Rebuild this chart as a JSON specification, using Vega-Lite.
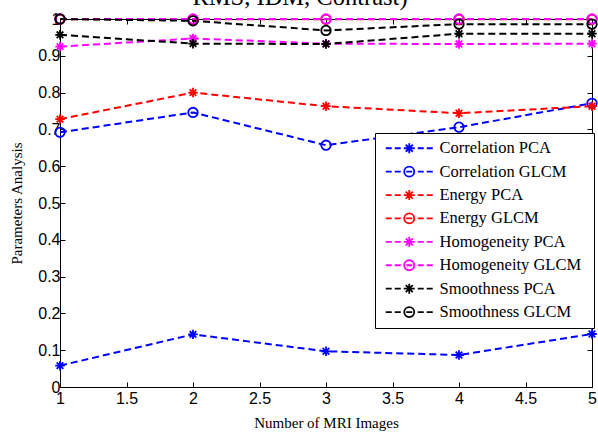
{
  "$schema": "https://vega.github.io/schema/vega-lite/v6.json",
  "width": 532,
  "height": 368,
  "autosize": "none",
  "padding": {"left": 60, "top": 19, "right": 6, "bottom": 45},
  "background": "white",
  "title": {"text": "RMS, IDM, Contrast)", "font": "Liberation Serif", "fontSize": 24.5, "fontWeight": "normal", "color": "black", "anchor": "middle", "baseline": "alphabetic", "offset": 3, "dx": -26, "dy": 22},
  "data": {"values": [
    {"x": 1, "series": "Correlation PCA", "v": 0.058},
    {"x": 2, "series": "Correlation PCA", "v": 0.143},
    {"x": 3, "series": "Correlation PCA", "v": 0.097},
    {"x": 4, "series": "Correlation PCA", "v": 0.087},
    {"x": 5, "series": "Correlation PCA", "v": 0.144},
    {"x": 1, "series": "Correlation GLCM", "v": 0.692},
    {"x": 2, "series": "Correlation GLCM", "v": 0.746},
    {"x": 3, "series": "Correlation GLCM", "v": 0.657},
    {"x": 4, "series": "Correlation GLCM", "v": 0.706},
    {"x": 5, "series": "Correlation GLCM", "v": 0.771},
    {"x": 1, "series": "Energy PCA", "v": 0.728},
    {"x": 2, "series": "Energy PCA", "v": 0.8},
    {"x": 3, "series": "Energy PCA", "v": 0.763},
    {"x": 4, "series": "Energy PCA", "v": 0.744},
    {"x": 5, "series": "Energy PCA", "v": 0.763},
    {"x": 1, "series": "Energy GLCM", "v": 0.999},
    {"x": 2, "series": "Energy GLCM", "v": 0.999},
    {"x": 3, "series": "Energy GLCM", "v": 0.999},
    {"x": 4, "series": "Energy GLCM", "v": 0.999},
    {"x": 5, "series": "Energy GLCM", "v": 0.999},
    {"x": 1, "series": "Homogeneity PCA", "v": 0.925},
    {"x": 2, "series": "Homogeneity PCA", "v": 0.947},
    {"x": 3, "series": "Homogeneity PCA", "v": 0.933},
    {"x": 4, "series": "Homogeneity PCA", "v": 0.932},
    {"x": 5, "series": "Homogeneity PCA", "v": 0.933},
    {"x": 1, "series": "Homogeneity GLCM", "v": 1.0},
    {"x": 2, "series": "Homogeneity GLCM", "v": 1.0},
    {"x": 3, "series": "Homogeneity GLCM", "v": 1.0},
    {"x": 4, "series": "Homogeneity GLCM", "v": 1.0},
    {"x": 5, "series": "Homogeneity GLCM", "v": 1.0},
    {"x": 1, "series": "Smoothness PCA", "v": 0.957},
    {"x": 2, "series": "Smoothness PCA", "v": 0.933},
    {"x": 3, "series": "Smoothness PCA", "v": 0.932},
    {"x": 4, "series": "Smoothness PCA", "v": 0.96},
    {"x": 5, "series": "Smoothness PCA", "v": 0.96},
    {"x": 1, "series": "Smoothness GLCM", "v": 1.0},
    {"x": 2, "series": "Smoothness GLCM", "v": 0.995},
    {"x": 3, "series": "Smoothness GLCM", "v": 0.969},
    {"x": 4, "series": "Smoothness GLCM", "v": 0.986},
    {"x": 5, "series": "Smoothness GLCM", "v": 0.986}
  ]},
  "layer": [
    {
      "mark": {"type": "line", "strokeDash": [7, 4], "strokeWidth": 2, "clip": false},
      "encoding": {
        "x": {"field": "x", "type": "quantitative", "scale": {"domain": [1, 5], "nice": false, "zero": false},
          "axis": {"orient": "bottom", "values": [1, 1.5, 2, 2.5, 3, 3.5, 4, 4.5, 5], "format": "~g", "title": "Number of MRI Images", "labelPadding": 8, "titlePadding": 9}},
        "y": {"field": "v", "type": "quantitative", "scale": {"domain": [0, 1], "nice": false},
          "axis": {"orient": "left", "values": [0, 0.1, 0.2, 0.3, 0.4, 0.5, 0.6, 0.7, 0.8, 0.9, 1], "format": "~g", "title": "Parameters Analysis", "labelPadding": 5, "titlePadding": 13}},
        "color": {"field": "series", "type": "nominal", "legend": null,
          "scale": {"domain": ["Correlation PCA", "Correlation GLCM", "Energy PCA", "Energy GLCM", "Homogeneity PCA", "Homogeneity GLCM", "Smoothness PCA", "Smoothness GLCM"],
                    "range": ["#0000ff", "#0000ff", "#ff0000", "#ff0000", "#ff00ff", "#ff00ff", "#000000", "#000000"]}}
      }
    },
    {
      "mark": {"type": "point", "filled": false, "strokeWidth": 1.8, "size": 90, "opacity": 1, "clip": false},
      "encoding": {
        "x": {"field": "x", "type": "quantitative", "axis": {"orient": "top", "labels": false, "title": null, "values": [1, 1.5, 2, 2.5, 3, 3.5, 4, 4.5, 5]}},
        "y": {"field": "v", "type": "quantitative", "axis": {"orient": "right", "labels": false, "title": null, "values": [0, 0.1, 0.2, 0.3, 0.4, 0.5, 0.6, 0.7, 0.8, 0.9, 1]}},
        "color": {"field": "series", "type": "nominal", "legend": null,
          "scale": {"domain": ["Correlation PCA", "Correlation GLCM", "Energy PCA", "Energy GLCM", "Homogeneity PCA", "Homogeneity GLCM", "Smoothness PCA", "Smoothness GLCM"],
                    "range": ["#0000ff", "#0000ff", "#ff0000", "#ff0000", "#ff00ff", "#ff00ff", "#000000", "#000000"]}},
        "shape": {"field": "series", "type": "nominal", "legend": null,
          "scale": {"domain": ["Correlation PCA", "Correlation GLCM", "Energy PCA", "Energy GLCM", "Homogeneity PCA", "Homogeneity GLCM", "Smoothness PCA", "Smoothness GLCM"],
                    "range": ["M-1,0H1M0,-1V1M-0.7,-0.7L0.7,0.7M-0.7,0.7L0.7,-0.7", "circle", "M-1,0H1M0,-1V1M-0.7,-0.7L0.7,0.7M-0.7,0.7L0.7,-0.7", "circle", "M-1,0H1M0,-1V1M-0.7,-0.7L0.7,0.7M-0.7,0.7L0.7,-0.7", "circle", "M-1,0H1M0,-1V1M-0.7,-0.7L0.7,0.7M-0.7,0.7L0.7,-0.7", "circle"]}}
      }
    },
    {
      "transform": [{"filter": "datum.x > 10"}],
      "mark": {"type": "point", "filled": false, "strokeWidth": 1.8},
      "encoding": {
        "x": {"field": "x", "type": "quantitative", "axis": null},
        "y": {"field": "v", "type": "quantitative", "axis": null},
        "color": {"field": "series", "type": "nominal",
          "scale": {"domain": ["Correlation PCA", "Correlation GLCM", "Energy PCA", "Energy GLCM", "Homogeneity PCA", "Homogeneity GLCM", "Smoothness PCA", "Smoothness GLCM"],
                    "range": ["#0000ff", "#0000ff", "#ff0000", "#ff0000", "#ff00ff", "#ff00ff", "#000000", "#000000"]},
          "legend": {"orient": "none", "legendX": 315, "legendY": 114, "title": " ", "titleOrient": "right", "titleFontSize": 1, "titlePadding": 6,
                     "labelFont": "Liberation Serif", "labelFontSize": 16.5, "labelColor": "black",
                     "symbolSize": 100, "symbolStrokeWidth": 1.8, "symbolOffset": 19, "labelOffset": 22, "rowPadding": 5.4, "padding": 7,
                     "strokeColor": "black", "fillColor": "white", "symbolOpacity": 1, "labelLimit": 300}},
        "shape": {"field": "series", "type": "nominal",
          "scale": {"domain": ["Correlation PCA", "Correlation GLCM", "Energy PCA", "Energy GLCM", "Homogeneity PCA", "Homogeneity GLCM", "Smoothness PCA", "Smoothness GLCM"],
                    "range": [
                      "M-4.7,0H-3.5M-2.9,0H-1.7M-1.1,0H1.1M1.7,0H2.9M3.5,0H4.7M0,-1V1M-0.7,-0.7L0.7,0.7M-0.7,0.7L0.7,-0.7",
                      "M-4.7,0H-3.5M-2.9,0H-1.7M-0.6,0H0.6M1.7,0H2.9M3.5,0H4.7M-1,0A1,1 0 1,0 1,0A1,1 0 1,0 -1,0",
                      "M-4.7,0H-3.5M-2.9,0H-1.7M-1.1,0H1.1M1.7,0H2.9M3.5,0H4.7M0,-1V1M-0.7,-0.7L0.7,0.7M-0.7,0.7L0.7,-0.7",
                      "M-4.7,0H-3.5M-2.9,0H-1.7M-0.6,0H0.6M1.7,0H2.9M3.5,0H4.7M-1,0A1,1 0 1,0 1,0A1,1 0 1,0 -1,0",
                      "M-4.7,0H-3.5M-2.9,0H-1.7M-1.1,0H1.1M1.7,0H2.9M3.5,0H4.7M0,-1V1M-0.7,-0.7L0.7,0.7M-0.7,0.7L0.7,-0.7",
                      "M-4.7,0H-3.5M-2.9,0H-1.7M-0.6,0H0.6M1.7,0H2.9M3.5,0H4.7M-1,0A1,1 0 1,0 1,0A1,1 0 1,0 -1,0",
                      "M-4.7,0H-3.5M-2.9,0H-1.7M-1.1,0H1.1M1.7,0H2.9M3.5,0H4.7M0,-1V1M-0.7,-0.7L0.7,0.7M-0.7,0.7L0.7,-0.7",
                      "M-4.7,0H-3.5M-2.9,0H-1.7M-0.6,0H0.6M1.7,0H2.9M3.5,0H4.7M-1,0A1,1 0 1,0 1,0A1,1 0 1,0 -1,0"
                    ]}}
      }
    }
  ],
  "resolve": {"scale": {"color": "independent", "shape": "independent"}, "axis": {"x": "independent", "y": "independent"}},
  "config": {
    "view": {"stroke": "black", "strokeWidth": 1},
    "axis": {"grid": false, "domainColor": "black", "domainWidth": 1, "tickColor": "black", "tickSize": -5, "tickWidth": 1,
             "labelFont": "Liberation Sans", "labelFontSize": 16, "labelColor": "black", "labelFlush": false, "labelOverlap": false,
             "titleFont": "Liberation Serif", "titleFontSize": 15, "titleFontWeight": "normal", "titleColor": "black"}
  }
}
